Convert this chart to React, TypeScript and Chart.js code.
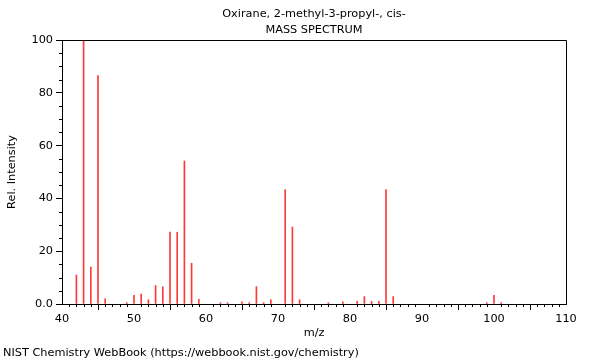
import React, { useEffect, useRef } from "react";
import { Chart, registerables } from "chart.js";

Chart.register(...registerables);

const TITLE_LINES = ["Oxirane, 2-methyl-3-propyl-, cis-", "MASS SPECTRUM"];
const X_LABEL = "m/z";
const Y_LABEL = "Rel. Intensity";
const FOOTER = "NIST Chemistry WebBook (https://webbook.nist.gov/chemistry)";

const MZ = [42, 43, 44, 45, 46, 49, 50, 51, 52, 53, 54, 55, 56, 57, 58, 59, 62, 63, 65, 66, 67, 68, 69, 71, 72, 73, 77, 79, 81, 82, 83, 84, 85, 86, 99, 100, 101];
const INTENSITY = [11, 100, 14, 86.5, 2, 0.5, 3.3, 3.8, 1.6, 7, 6.5, 27.2, 27.2, 54.2, 15.4, 1.8, 0.5, 0.5, 0.8, 0.5, 6.6, 0.5, 1.6, 43.3, 29.2, 1.6, 0.5, 0.8, 1, 2.8, 1, 1, 43.3, 2.8, 0.5, 3.3, 0.5];

const X_MIN = 40;
const X_MAX = 110;
const X_MAJOR = 10;
const X_MINOR = 1;
const Y_MIN = 0;
const Y_MAX = 100;
const Y_MAJOR = 20;
const Y_MINOR = 5;

const FONT = "DejaVu Sans";
const FONT_SIZE = 11.3;

export default function App() {
  const ref = useRef<HTMLCanvasElement>(null);

  useEffect(() => {
    const canvas = ref.current;
    if (!canvas) return;

    const decor = {
      id: "decor",
      afterDraw(chart: any) {
        const { ctx, chartArea } = chart;
        const { left, right, top, bottom } = chartArea;
        const xs = chart.scales.x;
        const ys = chart.scales.y;
        ctx.save();
        ctx.strokeStyle = "#000";
        ctx.lineWidth = 1;
        ctx.beginPath();
        ctx.moveTo(Math.round(left) + 0.5, Math.round(bottom) + 0.5);
        ctx.lineTo(Math.round(left) + 0.5, Math.round(top) + 0.5);
        ctx.lineTo(Math.round(right) + 0.5, Math.round(top) + 0.5);
        ctx.lineTo(Math.round(right) + 0.5, Math.round(bottom) + 0.5);
        ctx.lineTo(Math.round(left) + 0.5, Math.round(bottom) + 0.5);
        ctx.stroke();
        ctx.beginPath();
        for (let v = X_MIN; v <= X_MAX; v += X_MINOR) {
          if (v % X_MAJOR === 0) continue;
          const px = Math.round(xs.getPixelForValue(v)) + 0.5;
          ctx.moveTo(px, Math.round(bottom));
          ctx.lineTo(px, Math.round(bottom) + 3);
        }
        for (let v = Y_MIN; v <= Y_MAX; v += Y_MINOR) {
          if (v % Y_MAJOR === 0) continue;
          const py = Math.round(ys.getPixelForValue(v)) + 0.5;
          ctx.moveTo(Math.round(left) - 3, py);
          ctx.lineTo(Math.round(left) + 1, py);
        }
        ctx.stroke();
        ctx.fillStyle = "#000";
        ctx.font = `${FONT_SIZE}px "${FONT}"`;
        ctx.textBaseline = "middle";
        ctx.textAlign = "center";
        const cx = (left + right) / 2;
        ctx.fillText(TITLE_LINES[0], cx, 14);
        ctx.fillText(TITLE_LINES[1], cx, 30);
        ctx.fillText(X_LABEL, cx, 333);
        ctx.textAlign = "left";
        ctx.fillText(FOOTER, 3, 353);
        ctx.translate(12, (top + bottom) / 2);
        ctx.rotate(-Math.PI / 2);
        ctx.textAlign = "center";
        ctx.fillText(Y_LABEL, 0, 0);
        ctx.restore();
      },
    };

    const chart = new Chart(canvas, {
      type: "bar",
      data: {
        datasets: [
          {
            data: MZ.map((x, i) => ({ x, y: INTENSITY[i] })),
            backgroundColor: "rgba(255,0,0,0.78)",
            borderWidth: 0,
            barThickness: 1,
          },
        ],
      },
      options: {
        responsive: false,
        animation: false,
        layout: { padding: { top: 40, right: 34, left: 0, bottom: 0 } },
        plugins: {
          legend: { display: false },
          tooltip: { enabled: false },
          title: { display: false },
        },
        scales: {
          x: {
            type: "linear",
            min: X_MIN,
            max: X_MAX,
            offset: false,
            ticks: {
              stepSize: X_MAJOR,
              color: "#000",
              padding: 2,
              maxRotation: 0,
              font: { family: FONT, size: FONT_SIZE },
            },
            grid: { drawOnChartArea: false, tickLength: 6, color: "#000" },
            border: { display: true, color: "#000" },
            afterFit(s: any) {
              s.height = 56;
            },
          },
          y: {
            min: Y_MIN,
            max: Y_MAX,
            ticks: {
              stepSize: Y_MAJOR,
              color: "#000",
              padding: 3,
              font: { family: FONT, size: FONT_SIZE },
              callback: (v: any) => (v === 0 ? "0.0" : String(v)),
            },
            grid: { drawOnChartArea: false, tickLength: 6, color: "#000" },
            border: { display: true, color: "#000" },
            afterFit(s: any) {
              s.width = 62;
            },
          },
        },
      },
      plugins: [decor],
    });

    return () => chart.destroy();
  }, []);

  return (
    <div style={{ position: "absolute", left: 0, top: 0, width: 600, height: 360, background: "#fff" }}>
      <canvas ref={ref} width={600} height={360} />
    </div>
  );
}
